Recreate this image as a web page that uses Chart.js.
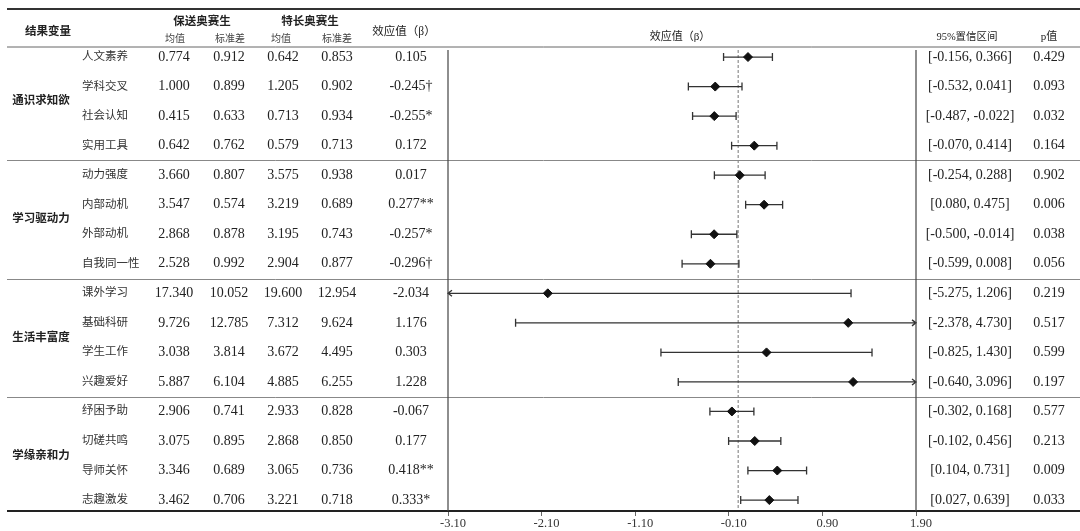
<!DOCTYPE html>
<html>
<head>
<meta charset="utf-8">
<script src="https://cdn.jsdelivr.net/npm/chart.js@4.4.1/dist/chart.umd.min.js"></script>
<style>
html, body { margin: 0; padding: 0; background: #fff; }
#wrap { width: 1080px; height: 531px; }
</style>
</head>
<body>
<div id="wrap"><canvas id="chart-1"></canvas></div>
<script>
const groups = ['通识求知欲', '学习驱动力', '生活丰富度', '学缘亲和力']
const items = ['人文素养', '学科交叉', '社会认知', '实用工具',
  '动力强度', '内部动机', '外部动机', '自我同一性',
  '课外学习', '基础科研', '学生工作', '兴趣爱好',
  '纾困予助', '切磋共鸣', '导师关怀', '志趣激发']
const baoMean = ['0.774', '1.000', '0.415', '0.642', '3.660', '3.547', '2.868', '2.528',
  '17.340', '9.726', '3.038', '5.887', '2.906', '3.075', '3.346', '3.462']
const baoSd = ['0.912', '0.899', '0.633', '0.762', '0.807', '0.574', '0.878', '0.992',
  '10.052', '12.785', '3.814', '6.104', '0.741', '0.895', '0.689', '0.706']
const teMean = ['0.642', '1.205', '0.713', '0.579', '3.575', '3.219', '3.195', '2.904',
  '19.600', '7.312', '3.672', '4.885', '2.933', '2.868', '3.065', '3.221']
const teSd = ['0.853', '0.902', '0.934', '0.713', '0.938', '0.689', '0.743', '0.877',
  '12.954', '9.624', '4.495', '6.255', '0.828', '0.850', '0.736', '0.718']
const beta = [0.105, -0.245, -0.255, 0.172, 0.017, 0.277, -0.257, -0.296,
  -2.034, 1.176, 0.303, 1.228, -0.067, 0.177, 0.418, 0.333]
const sig = ['', '†', '*', '', '', '**', '*', '†', '', '', '', '', '', '', '**', '*']
const ciLow = [-0.156, -0.532, -0.487, -0.070, -0.254, 0.080, -0.500, -0.599,
  -5.275, -2.378, -0.825, -0.640, -0.302, -0.102, 0.104, 0.027]
const ciHigh = [0.366, 0.041, -0.022, 0.414, 0.288, 0.475, -0.014, 0.008,
  1.206, 4.730, 1.430, 3.096, 0.168, 0.456, 0.731, 0.639]
const pValues = ['0.429', '0.093', '0.032', '0.164', '0.902', '0.006', '0.038', '0.056',
  '0.219', '0.517', '0.599', '0.197', '0.577', '0.213', '0.009', '0.033']
const xTicks = [-3.1, -2.1, -1.1, -0.1, 0.9, 1.9]

const rows = items.map((_, i) => i + 1)
const SERIF = '"Liberation Serif", "Noto Sans CJK SC", serif'
const fmt = v => v.toFixed(3)

const tablePlugin = {
  id: 'forestTable',
  beforeDatasetsDraw(chart) {
    const { ctx, chartArea: a, scales: { x, y } } = chart
    ctx.save()
    // reference line at zero
    const x0 = x.getPixelForValue(0)
    ctx.strokeStyle = '#777'
    ctx.lineWidth = 1
    ctx.setLineDash([3, 2])
    ctx.beginPath(); ctx.moveTo(x0, a.top + 3); ctx.lineTo(x0, a.bottom); ctx.stroke()
    ctx.setLineDash([])
    // confidence intervals
    ctx.strokeStyle = '#333'
    ctx.lineWidth = 1.3
    rows.forEach((r, i) => {
      const py = y.getPixelForValue(r)
      const loOut = ciLow[i] < x.min, hiOut = ciHigh[i] > x.max
      const x1 = x.getPixelForValue(Math.max(ciLow[i], x.min))
      const x2 = x.getPixelForValue(Math.min(ciHigh[i], x.max))
      ctx.beginPath(); ctx.moveTo(x1, py); ctx.lineTo(x2, py)
      if (loOut) { ctx.moveTo(x1 + 4, py - 3); ctx.lineTo(x1, py); ctx.lineTo(x1 + 4, py + 3) }
      else { ctx.moveTo(x1, py - 4); ctx.lineTo(x1, py + 4) }
      if (hiOut) { ctx.moveTo(x2 - 4, py - 3); ctx.lineTo(x2, py); ctx.lineTo(x2 - 4, py + 3) }
      else { ctx.moveTo(x2, py - 4); ctx.lineTo(x2, py + 4) }
      ctx.stroke()
    })
    ctx.restore()
  },
  afterDraw(chart) {
    const { ctx, chartArea: a, scales: { y }, width } = chart
    const L = 7, R = width
    ctx.save()
    // horizontal rules
    const hline = (py, w, c) => {
      ctx.strokeStyle = c; ctx.lineWidth = w
      ctx.beginPath(); ctx.moveTo(L, py); ctx.lineTo(R, py); ctx.stroke()
    }
    hline(9, 2, '#333')
    hline(a.top, 1, '#666')
    ;[4.5, 8.5, 12.5].forEach(v => hline(Math.round(y.getPixelForValue(v)) + 0.5, 1, '#888'))
    hline(a.bottom, 2, '#222')
    // vertical frame of the plot
    ctx.strokeStyle = '#444'; ctx.lineWidth = 1.2
    ctx.beginPath()
    ctx.moveTo(a.left, a.top + 3); ctx.lineTo(a.left, a.bottom)
    ctx.moveTo(a.right, a.top + 3); ctx.lineTo(a.right, a.bottom)
    ctx.stroke()

    const text = (s, px, py, size, opts = {}) => {
      ctx.font = (opts.bold ? 'bold ' : '') + size + 'px ' + SERIF
      ctx.fillStyle = opts.color || '#222'
      ctx.textAlign = opts.align || 'center'
      ctx.textBaseline = 'middle'
      ctx.fillText(s, px, py)
    }
    // header
    text('结果变量', 48, 32, 11.5, { bold: true })
    text('保送奥赛生', 202, 22, 11.5, { bold: true })
    text('特长奥赛生', 310, 22, 11.5, { bold: true })
    text('均值', 175, 39, 10, { color: '#444' })
    text('标准差', 230, 39, 10, { color: '#444' })
    text('均值', 281, 39, 10, { color: '#444' })
    text('标准差', 337, 39, 10, { color: '#444' })
    text('效应值（β）', 404, 32, 11.5)
    text('效应值（β）', 680, 37, 11)
    text('95%置信区间', 967, 37, 10.5)
    text('p值', 1049, 37, 11)

    groups.forEach((g, gi) => {
      text(g, 41, y.getPixelForValue(gi * 4 + 2.5), 11.5, { bold: true })
    })
    rows.forEach((r, i) => {
      const py = y.getPixelForValue(r)
      text(items[i], 82, py, 11.5, { align: 'left', color: '#333' })
      text(baoMean[i], 174, py, 14)
      text(baoSd[i], 229, py, 14)
      text(teMean[i], 283, py, 14)
      text(teSd[i], 337, py, 14)
      text(fmt(beta[i]) + sig[i], 411, py, 14)
      text('[' + fmt(ciLow[i]) + ', ' + fmt(ciHigh[i]) + ']', 970, py, 14)
      text(pValues[i], 1049, py, 14)
    })
    ctx.restore()
  }
}

const ctx = document.getElementById('chart-1').getContext('2d')
new Chart(ctx, {
  type: 'scatter',
  data: {
    datasets: [{
      label: '效应值',
      data: rows.map((r, i) => ({ x: beta[i], y: r })),
      pointStyle: 'rectRot',
      pointRadius: 4.5,
      backgroundColor: '#111',
      borderColor: '#111',
      borderWidth: 1
    }]
  },
  options: {
    responsive: true,
    maintainAspectRatio: false,
    animation: false,
    layout: { padding: { left: 448, right: 164, top: 47, bottom: 0 } },
    plugins: { legend: { display: false }, tooltip: { enabled: false } },
    scales: {
      x: {
        type: 'linear',
        min: -3.1,
        max: 1.9,
        afterBuildTicks: scale => { scale.ticks = xTicks.map(v => ({ value: v })) },
        afterFit: scale => { scale.height = 20 },
        border: { display: false },
        grid: { drawOnChartArea: false, tickLength: 5, color: '#666' },
        ticks: {
          padding: 0,
          labelOffset: 5,
          color: '#333',
          font: { family: SERIF, size: 12.5 },
          maxRotation: 0,
          callback: v => Number(v).toFixed(2)
        }
      },
      y: {
        type: 'linear',
        min: 0.66,
        max: 16.37,
        reverse: true,
        display: false
      }
    }
  },
  plugins: [tablePlugin]
})
</script>
</body>
</html>
